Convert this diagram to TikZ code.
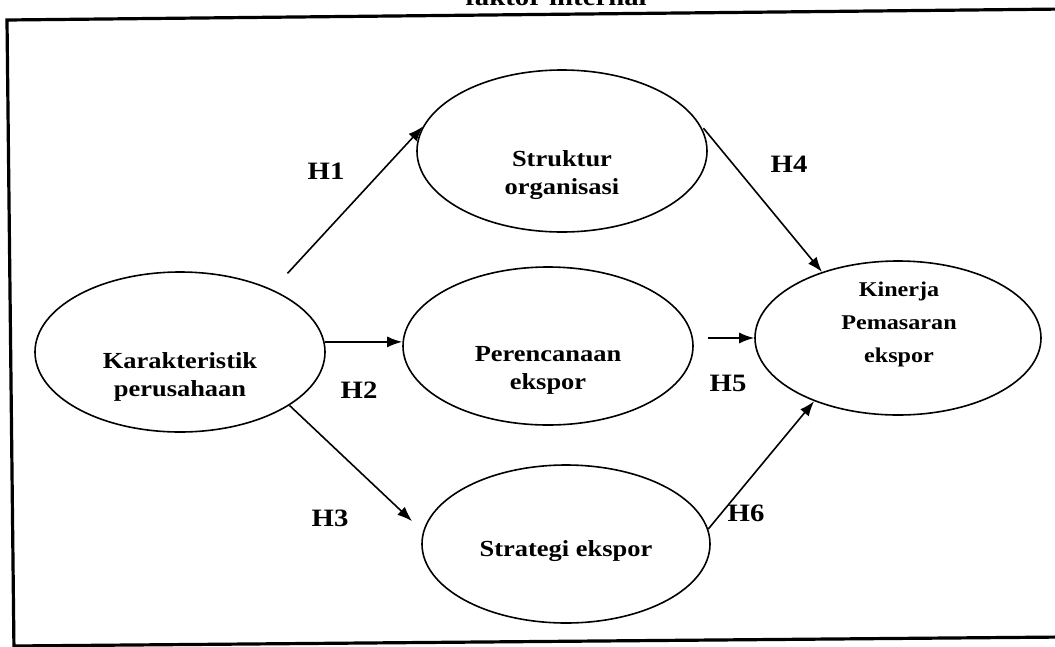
\documentclass[tikz,border=0pt]{standalone}
\usepackage{fontspec}
\setmainfont{Liberation Serif}
\newfontfamily\widefont[FakeStretch=1.15]{Liberation Serif}
\usetikzlibrary{shapes.geometric,arrows.meta}
\begin{document}
\begin{tikzpicture}[x=1pt,y=-1pt,
  oval/.style={draw,ellipse,line width=1.6pt,inner sep=0pt},
  vartext/.style={align=center,font=\widefont\bfseries\fontsize{23}{28}\selectfont},
  hyp/.style={font=\widefont\bfseries\fontsize{25}{28}\selectfont,inner sep=0pt},
  arr/.style={line width=1.6pt,-{Latex[length=15pt,width=11pt]}}]
\useasboundingbox (0,0) rectangle (1055,646);

% heading above the frame
\node[hyp,anchor=base] (title) at (556,5) {faktor internal};

% frame
\draw[line width=3.2pt] (1065,9) -- (7,20) -- (14,652);
\draw[line width=3.2pt] (14,646) -- (1065,637);

% constructs
\node[oval,minimum width=290pt,minimum height=160pt] (kar) at (180,352) {};
\node[oval,minimum width=290pt,minimum height=162pt] (str) at (562,151) {};
\node[oval,minimum width=290pt,minimum height=158pt] (per) at (548,346) {};
\node[oval,minimum width=288pt,minimum height=158pt] (stg) at (566,544) {};
\node[oval,minimum width=286pt,minimum height=154pt] (kin) at (898,338) {};

\node[vartext] (karT) at (180,377) {Karakteristik\\perusahaan};
\node[vartext] (strT) at (562,175) {Struktur\\organisasi};
\node[vartext] (perT) at (548,370) {Perencanaan\\ekspor};
\node[vartext] (stgT) at (566,551) {Strategi ekspor};
\node[vartext,font=\widefont\bfseries\fontsize{21}{33}\selectfont] (kinT) at (899,324) {Kinerja\\Pemasaran\\ekspor};

% hypothesised paths
\draw[arr,shorten <=22pt] (kar.34) -- (str.170);
\draw[arr] (kar.4) -- (kar.4 -| per.west);
\draw[arr,shorten >=15pt] (kar.-26) -- (stg.175);
\draw[arr,shorten <=8pt] (str.12) -- (kin.139.6);
\draw[arr,shorten <=14pt] (per.east |- kin.west) -- (kin.west);
\draw[arr] (stg.6.7) -- (kin.217.4);

% hypothesis labels
\node[hyp] (h1) at (326,171) {H1};
\node[hyp] (h2) at (359,390) {H2};
\node[hyp] (h3) at (330,518) {H3};
\node[hyp] (h4) at (789,164) {H4};
\node[hyp] (h5) at (728,383) {H5};
\node[hyp] (h6) at (746,513) {H6};
\end{tikzpicture}
\end{document}
